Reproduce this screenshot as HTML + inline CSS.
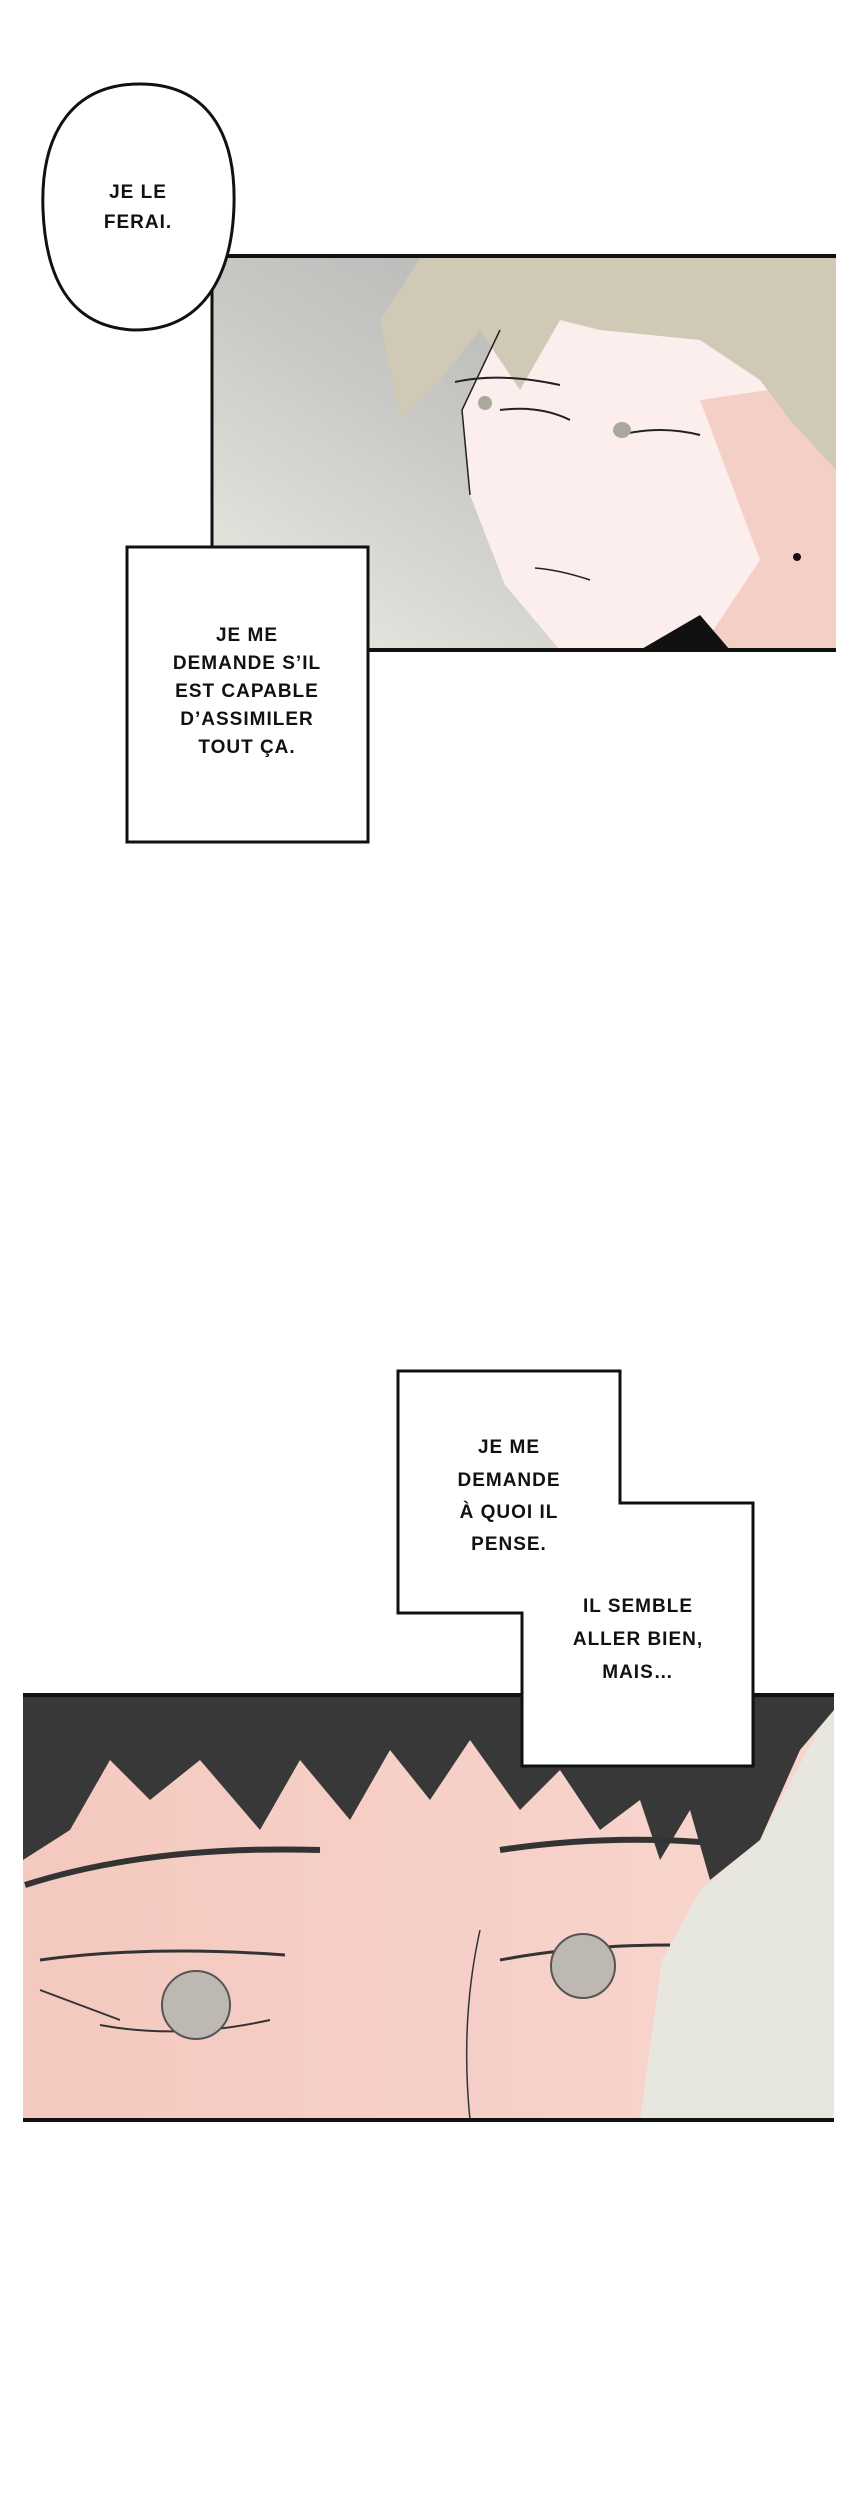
<!DOCTYPE html>
<html><head><meta charset="utf-8"><style>
html,body{margin:0;padding:0;background:#fff;}
body{width:850px;height:2500px;position:relative;overflow:hidden;}
svg{position:absolute;left:0;top:0;}
.t{font-family:"Liberation Sans",sans-serif;font-weight:bold;font-size:19px;fill:#111;text-anchor:middle;letter-spacing:1px;}
</style></head><body>
<svg width="850" height="2500" viewBox="0 0 850 2500">
<defs>
<linearGradient id="bg1" x1="0" y1="1" x2="1" y2="0">
<stop offset="0" stop-color="#eeeee6"/><stop offset="0.45" stop-color="#c9c9c6"/><stop offset="1" stop-color="#a9a9a9"/>
</linearGradient>
<linearGradient id="sk2" x1="0" y1="0" x2="1" y2="0">
<stop offset="0" stop-color="#f4c9bf"/><stop offset="1" stop-color="#f8d6cf"/>
</linearGradient>
</defs>
<!-- Panel 1 -->
<rect x="211" y="256" width="625" height="394" fill="url(#bg1)"/>
<polygon points="455,300 836,256 836,650 560,650 505,585 470,495 462,410 500,330" fill="#fbeeed"/>
<polygon points="700,400 836,380 836,650 700,650 760,560" fill="#f4cfc6"/>
<polygon points="380,320 420,258 836,258 836,470 790,420 760,380 700,340 600,330 560,320 520,390 480,330 440,380 400,420" fill="#cfc9b6"/>
<path d="M470,495 L462,410 L500,330" stroke="#222" stroke-width="1.5" fill="none"/>
<path d="M455,382 Q500,372 560,385 M500,410 Q540,405 570,420 M620,435 Q660,425 700,435" stroke="#222" stroke-width="2" fill="none"/>
<ellipse cx="485" cy="403" rx="7" ry="7" fill="#aaa89a"/><ellipse cx="622" cy="430" rx="9" ry="8" fill="#aaa89a"/>
<path d="M535,568 Q560,570 590,580" stroke="#222" stroke-width="1.5" fill="none"/>
<polygon points="640,650 700,615 730,650" fill="#111"/>
<circle cx="797" cy="557" r="4" fill="#111"/>
<line x1="211" y1="256" x2="836" y2="256" stroke="#111" stroke-width="4"/>
<line x1="211" y1="650" x2="836" y2="650" stroke="#111" stroke-width="4"/>
<line x1="212" y1="256" x2="212" y2="650" stroke="#111" stroke-width="3"/>
<!-- Bubble -->
<path d="M140,84 C205,84 236,130 234,205 C232,280 200,330 135,330 C75,328 46,285 43,210 C40,130 75,84 140,84 Z" fill="#fff" stroke="#111" stroke-width="3"/>
<text class="t" x="138" y="198">JE LE</text>
<text class="t" x="138" y="228">FERAI.</text>
<!-- Box 1 -->
<rect x="127" y="547" width="241" height="295" fill="#fff" stroke="#111" stroke-width="3"/>
<text class="t" x="247" y="641">JE ME</text>
<text class="t" x="247" y="669">DEMANDE S’IL</text>
<text class="t" x="247" y="697">EST CAPABLE</text>
<text class="t" x="247" y="725">D’ASSIMILER</text>
<text class="t" x="247" y="753">TOUT ÇA.</text>
<!-- Panel 2 -->
<rect x="23" y="1695" width="811" height="425" fill="url(#sk2)"/>
<polygon points="640,2120 662,1960 700,1890 760,1840 834,1700 834,2120" fill="#e7e6df"/>
<polygon points="23,1695 834,1695 834,1710 800,1750 760,1840 710,1880 690,1810 660,1860 640,1800 600,1830 560,1770 520,1810 470,1740 430,1800 390,1750 350,1820 300,1760 260,1830 200,1760 150,1800 110,1760 70,1830 23,1860" fill="#383838"/>
<path d="M25,1885 Q150,1845 320,1850 M500,1850 Q600,1835 700,1842" stroke="#333" stroke-width="6" fill="none"/>
<path d="M40,1960 Q150,1945 285,1955 M500,1960 Q580,1945 670,1945" stroke="#333" stroke-width="3" fill="none"/>
<path d="M40,1990 L120,2020 M100,2025 Q180,2040 270,2020" stroke="#333" stroke-width="2" fill="none"/>
<circle cx="196" cy="2005" r="34" fill="#bdb8b2" stroke="#555" stroke-width="2"/>
<circle cx="583" cy="1966" r="32" fill="#bdb8b2" stroke="#555" stroke-width="2"/>
<path d="M480,1930 Q460,2020 470,2120" stroke="#333" stroke-width="1.5" fill="none"/>
<line x1="23" y1="1695" x2="834" y2="1695" stroke="#111" stroke-width="4"/>
<line x1="23" y1="2120" x2="834" y2="2120" stroke="#111" stroke-width="4"/>
<!-- Box A & B -->
<polygon points="398,1371 620,1371 620,1503 753,1503 753,1766 522,1766 522,1613 398,1613" fill="#fff" stroke="#111" stroke-width="3"/>
<text class="t" x="509" y="1453">JE ME</text>
<text class="t" x="509" y="1486">DEMANDE</text>
<text class="t" x="509" y="1518">À QUOI IL</text>
<text class="t" x="509" y="1550">PENSE.</text>
<text class="t" x="638" y="1612">IL SEMBLE</text>
<text class="t" x="638" y="1645">ALLER BIEN,</text>
<text class="t" x="638" y="1678">MAIS…</text>
</svg>
</body></html>
